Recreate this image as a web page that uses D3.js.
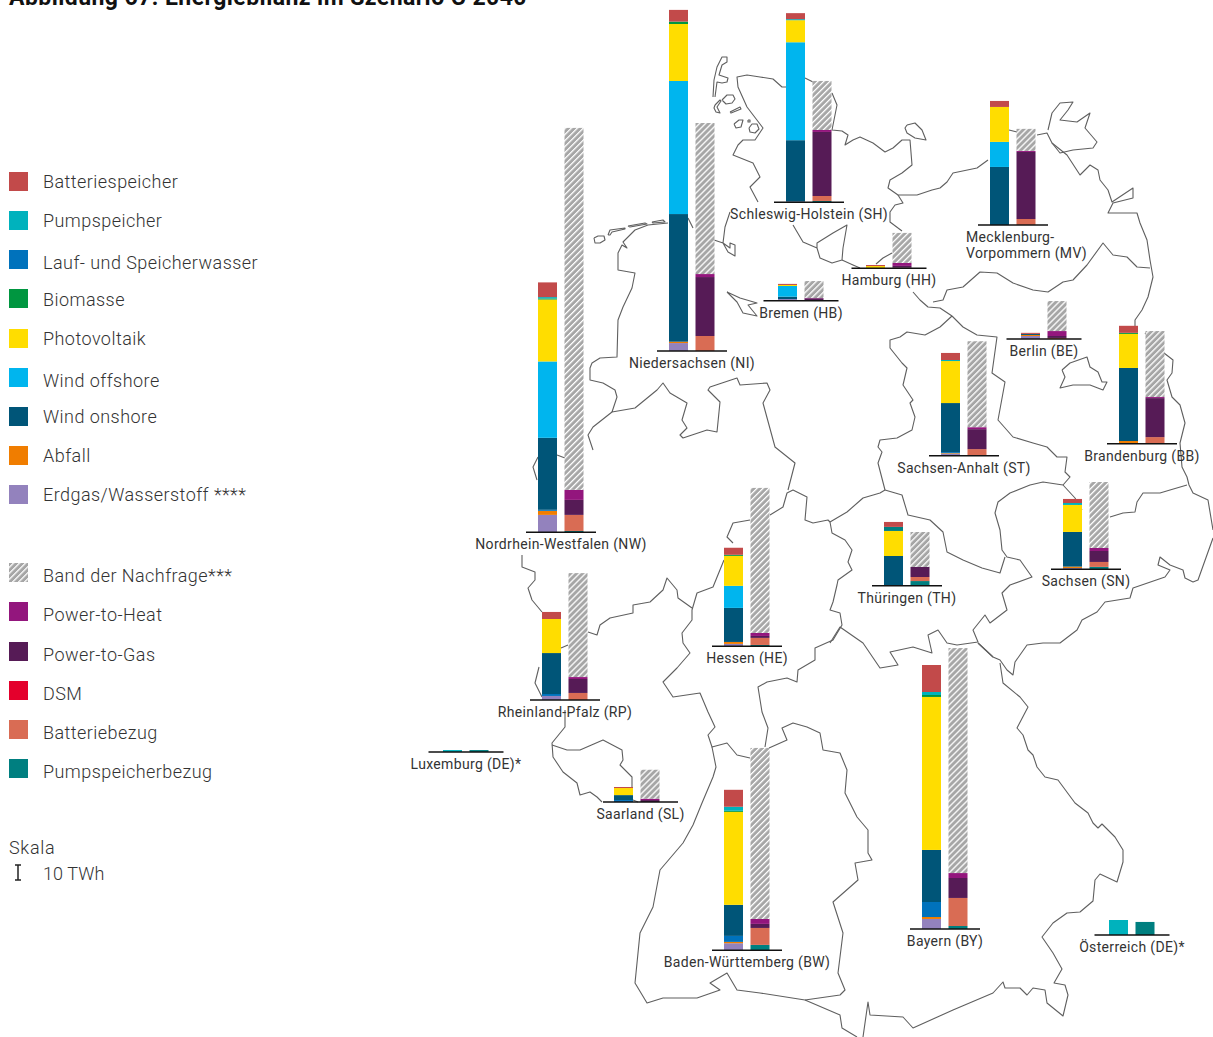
<!DOCTYPE html>
<html lang="de">
<head>
<meta charset="UTF-8" />
<title>Energiebilanz</title>
<script src="https://d3js.org/d3.v7.min.js"></script>
<style>
    body { margin: 0; background: #fff; }
    text { font-family: Roboto, sans-serif; fill: #333; }
</style>
</head>
<body>
<script>
// Reihenfolge der Werte in allen Reihen
const states = ["NW","NI","SH","MV","HH","HB","BE","BB","ST","TH","SN","HE","RP","LU","SL","BW","BY","AT"];

// Erzeugung in TWh
const erdgas   = [11.6,5.3,0.5,0,0,1.1,2,0,1.3,0,0.9,1.6,2.7,0,0,4.7,6.7,0];
const abfall   = [2.7,0.9,0,0,0,0,0.7,1.8,0.4,0,0.9,1.3,0,0,0,0.9,1.3,0];
const lauf     = [0.7,0,0,0,0,0,0,0,0.7,0,0,0,1.3,0,1.3,4,10,0];
const onshore  = [48,85.1,40.9,38.7,0.2,1.6,0.7,48.7,32.7,19.8,23.1,22.7,27.3,0,3.3,20.7,34.7,0];
const offshore = [50.9,88.7,65.3,16.7,0,7.1,0,0,0,0,0,14.7,0,0,0,0,0,0];
const pv       = [41.3,38,14.7,23.3,1.3,0.7,0,22.7,28,16.7,18,20,22.7,0,4.7,62,102,0];
const biomasse = [0.7,1.6,0,0,0,0,0,0.7,0,0,0,0.7,0,0,0,0.7,1.3,0];
const pumpe    = [0.9,0,0.7,0,0,0,0,0,0.7,0,1.3,0,0,1.3,0,2.7,2,10];
const pumpeTH  = [0,0,0,0,0,0,0,0,0,2.7,0,0,0,0,0,0,0,0]; // in Thueringen dunkler eingefaerbt
const batterie = [9.8,7.8,4,4,0.7,0.7,0.7,4.7,4.7,3.3,2.7,4.7,4.7,0,0.7,11.3,18,0];

// Verbrauch in TWh
const pumpBezug = [0.9,0,0.9,0,0,0,0,0,0.4,3.1,1.6,0.9,0,1.3,0,3.6,2,8.7];
const battBezug = [10.7,10,3.3,4,0.4,0,0.7,4.4,4,2.7,3.3,4.7,4.7,0,0,11.3,18.7,0];
const dsm       = [0,0,0,0,0,0,0,0,0,0,0,0,0,0,0,0,0,0];
const p2g       = [10,39.3,42.7,44.7,1.2,1.6,1.3,26,13.3,6.7,7.3,1.3,9.3,0,1.3,2.7,13.3,0];
const p2h       = [6.7,2,1.3,0.7,2,0.2,3.3,0.7,1.3,0,2,2,1.3,0,0.9,3.3,3.3,0];
const band      = [241.3,100.7,32.7,14.7,20,11.3,20,44,57.3,23.3,44,96.7,69.3,0,19.3,114,150,0];

const labels = {
    NW:["Nordrhein-Westfalen (NW)"], NI:["Niedersachsen (NI)"], SH:["Schleswig-Holstein (SH)"],
    MV:["Mecklenburg-","Vorpommern (MV)"], HH:["Hamburg (HH)"], HB:["Bremen (HB)"], BE:["Berlin (BE)"],
    BB:["Brandenburg (BB)"], ST:["Sachsen-Anhalt (ST)"], TH:["Thüringen (TH)"], SN:["Sachsen (SN)"],
    HE:["Hessen (HE)"], RP:["Rheinland-Pfalz (RP)"], LU:["Luxemburg (DE)*"], SL:["Saarland (SL)"],
    BW:["Baden-Württemberg (BW)"], BY:["Bayern (BY)"], AT:["Österreich (DE)*"]
};

const legendNames = ["Batteriespeicher","Pumpspeicher","Lauf- und Speicherwasser","Biomasse","Photovoltaik","Wind offshore","Wind onshore","Abfall","Erdgas/Wasserstoff ****","Band der Nachfrage***","Power-to-Heat","Power-to-Gas","DSM","Batteriebezug","Pumpspeicherbezug"];

const color = {
    batterie:"#c24a4a", pumpe:"#00b2bd", lauf:"#0072bc", biomasse:"#009640", pv:"#ffdd00",
    offshore:"#00b5ee", onshore:"#005578", abfall:"#f07d00", erdgas:"#9382bd", band:"url(#hatch)",
    p2h:"#93167d", p2g:"#561b56", dsm:"#e4002c", battBezug:"#d96c54", pumpBezug:"#007f80", pumpeTH:"#007f80"
};

const legendKeys = ["batterie","pumpe","lauf","biomasse","pv","offshore","onshore","abfall","erdgas","band","p2h","p2g","dsm","battBezug","pumpBezug"];
const legendY = [172,211,250,289,329,368,407,446,485,563,602,642,681,720,759];
const legendBase = [188,227,269,306,345,387,423,462,501,582,621,661,700,739,778];

// Lage der Balkenpaare auf der Karte
const place = {
    NW:{x:538,base:532.3,half:35}, NI:{x:669,base:351,half:35}, SH:{x:786,base:202.3,half:35},
    MV:{x:990,base:225,half:35}, HH:{x:866,base:268.3,half:37.5}, HB:{x:778,base:300.7,half:37.5},
    BE:{x:1021,base:339,half:37.5}, BB:{x:1119,base:443.7,half:35}, ST:{x:941,base:455.7,half:35},
    TH:{x:884,base:585.7,half:35}, SN:{x:1063,base:569.3,half:35}, HE:{x:724,base:646.3,half:35},
    RP:{x:542,base:700,half:35}, LU:{x:443,base:752,half:37.5}, SL:{x:614,base:802,half:37.5,shift:3.5},
    BW:{x:724,base:950.3,half:35}, BY:{x:922,base:929,half:35}, AT:{x:1109,base:935,half:37.5}
};

// Umrisse der Karte
const mapLines = [
    // Inseln
    [[713,97],[714,80],[717,67],[722,57],[727,57],[727,62],[722,65],[719,75],[728,78],[727,82],[722,83],[717,82],[715,97]],
    [[722,100],[727,95],[733,95],[735,99],[732,103],[726,104],[722,100]],
    [[715,105],[720,100],[721,101],[717,107],[720,113],[716,112],[714,108],[715,105]],
    [[730,112],[740,107],[741,109],[731,113],[730,112]],
    [[734,124],[739,120],[743,120],[741,127],[736,128],[734,124]],
    [[749,128],[752,124],[757,124],[759,129],[755,133],[750,132],[749,128]],
    [[748,120],[750,120],[750,122],[748,122],[748,120]],
    [[594,238],[598,236],[604,236],[605,240],[600,243],[595,243],[594,238]],
    [[608,235],[610,230],[625,228],[625,229],[612,232],[610,235],[608,235]],
    [[628,226],[645,223],[647,224],[630,227],[628,226]],
    [[652,222],[663,220],[665,222],[653,223],[652,222]],
    [[907,125],[915,123],[922,130],[926,140],[915,138],[907,133],[905,128],[907,125]],
    // Schleswig-Holstein, Westkueste und Norden
    [[758,202],[750,187],[760,177],[753,163],[733,155],[738,145],[743,140],[755,140],[763,128],[747,107],[738,87],[737,77],[747,75],[760,77],[773,79],[782,87],[787,87]],
    [[805,78],[813,82]],
    [[832,93],[837,105],[833,125],[832,130],[842,131],[848,135],[845,145],[853,140],[860,137],[873,143],[885,152],[893,148],[902,140],[910,140],[912,165],[902,173],[890,180],[888,188],[898,195],[917,195],[932,190],[940,188],[947,182],[953,173],[977,168],[988,160]],
    [[898,195],[903,203],[895,205],[890,212],[890,222],[902,231]],
    // Ostseekueste und Ruegen
    [[1009,130],[1017,132]],
    [[1037,135],[1047,133],[1052,143],[1067,155],[1080,175],[1090,165],[1098,170],[1100,180],[1108,190],[1112,202],[1133,188],[1133,198],[1113,203],[1108,213],[1137,213],[1140,223],[1147,240],[1150,260],[1153,277],[1148,297],[1142,310],[1135,320],[1135,326]],
    [[1048,130],[1052,113],[1060,103],[1073,102],[1068,110],[1060,120],[1077,122],[1090,113],[1085,128],[1097,142],[1093,148],[1073,150],[1060,153],[1052,143]],
    // Oder und Neisse
    [[1145,333],[1164,353],[1173,360],[1172,373],[1167,380],[1172,397],[1180,405],[1185,423],[1180,443],[1182,467],[1187,477],[1189,485],[1193,493],[1208,500],[1213,530]],
    [[1213,538],[1198,580],[1193,582],[1185,578],[1183,570],[1170,565],[1160,557],[1158,565],[1170,570],[1165,577],[1133,588],[1130,598],[1105,602],[1097,612],[1082,620],[1077,630],[1060,643],[1043,643],[1027,645],[1015,662],[1013,675],[1007,670],[1000,660],[993,657],[978,643]],
    // Sachsen gegen Brandenburg und Thueringen
    [[1187,485],[1170,490],[1160,493],[1143,493],[1137,502],[1135,512],[1123,513],[1110,517]],
    [[1082,510],[1075,498],[1063,485],[1043,482],[1030,485],[1010,493],[998,502],[995,513],[1000,530],[1002,550],[1007,557],[1020,560],[1032,577],[1010,585],[1002,593],[1007,610],[990,623],[985,615],[973,630],[978,642],[957,645],[947,643],[938,630],[928,635],[932,653],[913,647],[890,652],[898,665],[880,668],[863,643],[840,627],[830,643]],
    // Thueringen
    [[830,522],[847,512],[863,498],[880,493],[885,490],[902,495],[908,515],[930,520],[943,532],[947,552],[963,560],[982,568],[1000,573],[1005,557]],
    [[830,522],[832,533],[845,540],[852,550],[848,562],[852,570],[838,580],[837,585],[833,602],[830,610],[840,613],[842,625],[833,640],[815,648],[815,660],[798,670],[797,682],[787,678],[767,682],[758,687],[762,712],[768,728],[765,747]],
    [[830,522],[828,520],[813,523],[805,520],[807,497],[793,490],[787,493],[783,507],[770,515]],
    // Hessen
    [[750,520],[733,523],[727,537],[733,543]],
    [[724,560],[713,587],[697,593],[692,610],[692,620],[682,633],[683,643],[690,653],[677,668],[663,682],[673,697],[700,693],[708,712],[715,727],[708,735],[712,747],[727,743],[737,755],[750,758]],
    // Baden-Wuerttemberg
    [[712,747],[716,767],[713,777],[702,803],[693,825],[683,843],[660,870],[653,907],[640,933],[635,983],[647,1003],[663,998],[697,998],[720,990],[710,983],[727,973],[737,990],[760,993],[805,1000],[840,995],[845,990],[838,973],[843,933],[833,902],[858,880],[855,863],[872,860],[868,853],[868,830],[857,817],[845,793],[847,770],[840,753],[823,750],[820,733],[807,727],[793,723],[782,728],[787,740],[769,748]],
    // Bayern, Sueden und Osten
    [[805,1000],[840,1015],[842,1028],[857,1037]],
    [[863,1037],[868,1002],[870,1015],[903,1017],[913,1028],[953,1010],[993,993],[1003,982],[1005,988],[1020,988],[1027,995],[1033,988],[1045,990],[1047,1003],[1063,1016],[1068,995],[1065,985],[1054,983],[1062,969],[1053,953],[1042,937],[1053,923],[1067,913],[1080,912],[1093,901],[1095,880],[1100,874],[1117,882],[1123,862],[1123,850],[1115,837],[1102,824],[1098,828],[1093,823],[1088,813],[1075,803],[1058,780],[1045,777],[1037,767],[1033,755],[1028,750],[1023,735],[1017,728],[1028,707],[1020,697],[1003,683],[1000,663]],
    [[978,643],[993,657]],
    // Niedersachsen, Kueste und Grenzen
    [[668,223],[648,225],[635,230],[623,242],[627,248],[622,245],[618,253],[618,270],[635,273],[632,288],[623,307],[618,320],[617,357],[600,358],[592,363],[590,368],[590,380],[603,383],[615,390],[617,397],[612,412],[635,408],[657,390],[663,383],[670,393],[687,403],[682,420],[687,428],[680,435],[683,438],[707,430],[717,432],[720,402],[708,390],[710,387],[737,378],[740,385],[767,383],[770,390],[763,403],[775,447],[795,463],[788,490]],
    [[730,212],[725,227],[723,243],[728,252],[735,256],[735,245],[730,243],[730,248],[723,243],[714,240]],
    [[688,218],[693,228]],
    // Bremen
    [[727,292],[740,298],[757,303],[748,305],[757,316],[743,313],[737,302],[727,292]],
    // Hamburg und Umland
    [[793,225],[803,242],[817,248],[820,258],[832,263],[842,260],[843,248],[847,225],[833,233],[817,243],[817,248]],
    [[842,260],[853,265],[860,268]],
    [[892,253],[883,258],[876,264]],
    // Mecklenburg gegen Brandenburg
    [[913,292],[920,300],[928,307],[940,308],[952,316]],
    [[933,302],[943,300],[947,290],[963,287],[980,272],[997,273],[1013,283],[1033,290],[1048,292],[1063,282],[1073,280],[1087,265],[1103,243],[1113,255],[1127,257],[1137,267],[1150,268]],
    // Sachsen-Anhalt
    [[952,316],[940,327],[925,335],[907,332],[900,337],[890,340],[890,348],[902,363],[907,368],[903,385],[913,400],[910,403],[915,417],[912,430],[897,438],[880,440],[878,447],[882,452],[878,463],[885,490]],
    [[952,316],[963,327],[977,335],[997,337],[992,373],[1005,382],[998,420],[1013,437],[1033,443],[1047,447],[1057,457],[1067,457],[1065,472],[1070,477],[1063,485]],
    // Berlin
    [[1062,370],[1070,363],[1087,357],[1090,367],[1098,372],[1102,382],[1107,382],[1103,390],[1090,385],[1073,385],[1060,388],[1065,377],[1062,370]],
    // Nordrhein-Westfalen
    [[612,412],[593,427],[588,435],[593,450]],
    [[538,457],[533,467],[537,480]],
    [[557,455],[565,458]],
    // Rheinland-Pfalz und Saarland
    [[522,555],[522,567],[535,572],[535,580],[528,588],[532,600],[542,612]],
    [[539,667],[535,683],[542,697]],
    [[561,648],[568,645]],
    [[588,632],[597,635],[600,625],[610,618],[633,613],[633,605],[650,602],[663,590],[667,578],[677,590],[678,598],[692,608]],
    [[565,710],[565,727],[552,743],[553,757],[563,772],[577,783],[580,795],[590,792],[597,797],[602,802]],
    [[552,745],[567,750],[580,750],[603,740],[622,750],[623,760],[620,765],[632,777],[632,787]],
    [[633,800],[638,802]]
];

const supplyKeys = ["erdgas","abfall","lauf","onshore","offshore","pv","biomasse","pumpeTH","pumpe","batterie"];
const demandKeys = ["pumpBezug","battBezug","dsm","p2g","p2h","band"];
const valueOf = {erdgas,abfall,lauf,onshore,offshore,pv,biomasse,pumpeTH,pumpe,batterie,pumpBezug,battBezug,dsm,p2g,p2h,band};

const rows = states.map((s, i) => {
    const row = {state: s};
    Object.keys(valueOf).forEach(k => { row[k] = valueOf[k][i]; });
    return row;
});

const svg = d3.select("body").append("svg").attr("width", 1213).attr("height", 1037);

const defs = svg.append("defs");
const hatch = defs.append("pattern").attr("id", "hatch")
    .attr("patternUnits", "userSpaceOnUse")
    .attr("width", 4.24).attr("height", 4.24)
    .attr("patternTransform", "rotate(45)");
hatch.append("rect").attr("width", 4.24).attr("height", 4.24).attr("fill", "#a6a6a6");
hatch.append("rect").attr("width", 1.3).attr("height", 4.24).attr("fill", "#fff");

// 10 TWh sind 15 px
const scaleY = d3.scaleLinear().domain([0, 10]).range([0, 15]);
const scaleX = d3.scaleBand().domain(["supply", "demand"]).range([0, 45.5]).paddingInner(0.283);

// Karte
const line = d3.line();
svg.append("g").selectAll("path").data(mapLines).join("path")
    .attr("d", d => line(d))
    .attr("fill", "none")
    .attr("stroke", "#5f5f5f")
    .attr("stroke-width", 1.1)
    .attr("stroke-linejoin", "round");

// Balkenpaare
const stackSupply = d3.stack().keys(supplyKeys)(rows);
const stackDemand = d3.stack().keys(demandKeys)(rows);

const groups = svg.append("g").selectAll("g").data(rows).join("g")
    .attr("transform", d => `translate(${place[d.state].x},${place[d.state].base})`);

function drawStack(layers, column) {
    layers.forEach(layer => {
        groups.append("rect")
            .datum((d, i) => layer[i])
            .attr("x", scaleX(column))
            .attr("width", scaleX.bandwidth())
            .attr("y", d => -scaleY(d[1]))
            .attr("height", d => scaleY(d[1]) - scaleY(d[0]))
            .attr("fill", color[layer.key]);
    });
}
drawStack(stackSupply, "supply");
drawStack(stackDemand, "demand");

groups.append("line")
    .attr("x1", d => 23 + (place[d.state].shift || 0) - place[d.state].half)
    .attr("x2", d => 23 + (place[d.state].shift || 0) + place[d.state].half)
    .attr("y1", 0).attr("y2", 0)
    .attr("stroke", "#111")
    .attr("stroke-width", 1.5);

groups.each(function (d) {
    const lines = labels[d.state];
    const g = d3.select(this);
    lines.forEach((t, i) => {
        g.append("text")
            .attr("x", lines.length > 1 ? -24 : 23 + (place[d.state].shift || 0))
            .attr("y", 17 + i * 16)
            .attr("text-anchor", lines.length > 1 ? "start" : "middle")
            .attr("font-size", 14)
            .attr("letter-spacing", 0.33)
            .text(t);
    });
});

// Titel
svg.append("text")
    .attr("x", 9).attr("y", 5)
    .attr("font-size", 23)
    .attr("font-weight", 700)
    .attr("letter-spacing", 0.45)
    .style("fill", "#111")
    .text("Abbildung 67: Energiebilanz im Szenario C 2040");

// Legende
const legend = svg.append("g");
legend.selectAll("rect").data(legendKeys).join("rect")
    .attr("x", 9)
    .attr("y", (d, i) => legendY[i])
    .attr("width", 19).attr("height", 19)
    .attr("fill", d => color[d]);
legend.selectAll("text").data(legendNames).join("text")
    .attr("x", 43)
    .attr("y", (d, i) => legendBase[i])
    .attr("font-size", 18)
    .attr("font-weight", 300)
    .attr("letter-spacing", 0.45)
    .text(d => d);

// Skala
svg.append("text").attr("x", 9).attr("y", 854).attr("font-size", 18).attr("font-weight", 300).attr("letter-spacing", 0.7).text("Skala");
svg.append("text").attr("x", 43).attr("y", 880).attr("font-size", 18).attr("font-weight", 300).attr("letter-spacing", 0.1).text("10 TWh");
const scaleMark = svg.append("g").attr("transform", "translate(18,880)").attr("stroke", "#222").attr("stroke-width", 1.5);
scaleMark.append("line").attr("x1", 0).attr("x2", 0).attr("y1", 0).attr("y2", -scaleY(10));
scaleMark.append("line").attr("x1", -3).attr("x2", 3).attr("y1", 0).attr("y2", 0);
scaleMark.append("line").attr("x1", -3).attr("x2", 3).attr("y1", -scaleY(10)).attr("y2", -scaleY(10));
</script>
</body>
</html>
